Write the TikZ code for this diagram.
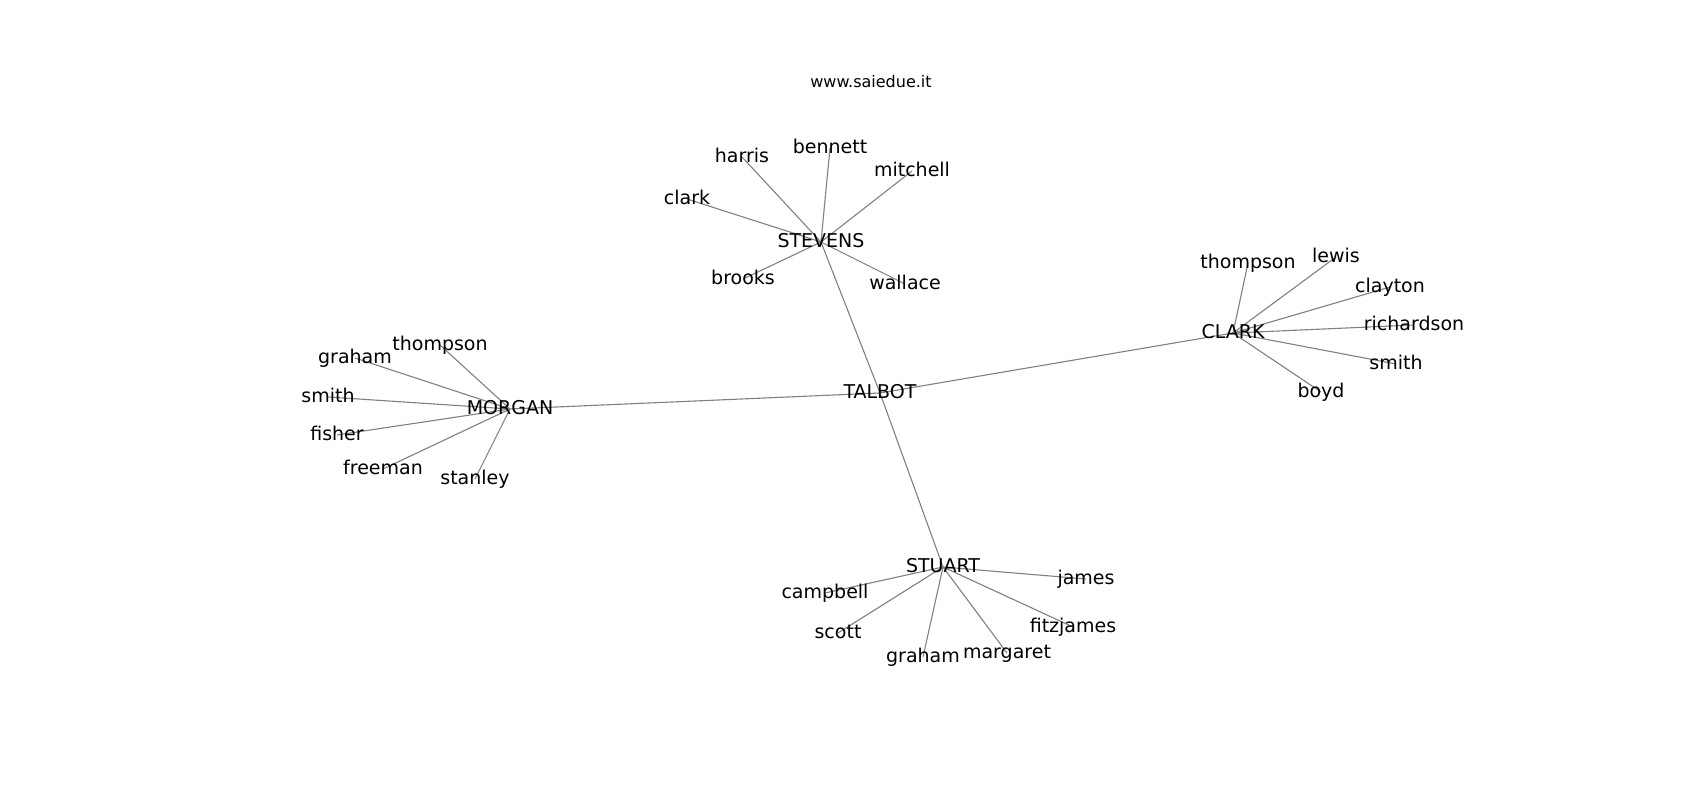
\documentclass[tikz,border=0pt]{standalone}
\usepackage{fontspec}
\setmainfont{DejaVu Sans}
\usetikzlibrary{backgrounds}
\tikzset{
  label text/.style={inner sep=0pt, text height=1.05em, text depth=0pt},
  person/.style={label text, font=\fontsize{19}{23}\selectfont},
  link/.style={draw=black!50, line width=1.1pt},
}
\begin{document}
\begin{tikzpicture}[x=1pt,y=-1pt]
  \useasboundingbox (0,0) rectangle (1700,800);
  \node[label text, font=\fontsize{16}{19}\selectfont] (site) at (871,82) {www.saiedue.it};
  % families
  \node[person] (talbot) at (880,393) {TALBOT};
  \node[person] (stevens) at (821,242) {STEVENS};
  \node[person] (clark) at (1233,333) {CLARK};
  \node[person] (morgan) at (510,409) {MORGAN};
  \node[person] (stuart) at (943,567) {STUART};
  \foreach \f in {stevens, clark, morgan, stuart}
    \scoped[on background layer] \draw[link] (talbot.center) -- (\f.center);
  % members
  \foreach \hub/\n/\x/\y/\t in {
    stevens/st-harris/742/157/harris, stevens/st-bennett/830/148/bennett,
    stevens/st-mitchell/912/171/mitchell, stevens/st-clark/687/199/clark,
    stevens/st-brooks/743/279/brooks, stevens/st-wallace/905/284/wallace,
    clark/cl-thompson/1248/263/thompson, clark/cl-lewis/1336/257/lewis,
    clark/cl-clayton/1390/287/clayton, clark/cl-richardson/1414/325/richardson,
    clark/cl-smith/1396/364/smith, clark/cl-boyd/1321/392/boyd,
    morgan/mo-thompson/440/345/thompson, morgan/mo-graham/355/358/graham,
    morgan/mo-smith/328/397/smith, morgan/mo-fisher/337/435/fisher,
    morgan/mo-freeman/383/469/freeman, morgan/mo-stanley/475/479/stanley,
    stuart/su-campbell/825/593/campbell, stuart/su-james/1086/579/james,
    stuart/su-scott/838/633/scott, stuart/su-graham/923/657/graham,
    stuart/su-margaret/1007/653/margaret, stuart/su-fitzjames/1073/627/fitzjames} {
    \node[person] (\n) at (\x,\y) {\t};
    \scoped[on background layer] \draw[link] (\hub.center) -- (\n.center);
  }
\end{tikzpicture}
\end{document}
